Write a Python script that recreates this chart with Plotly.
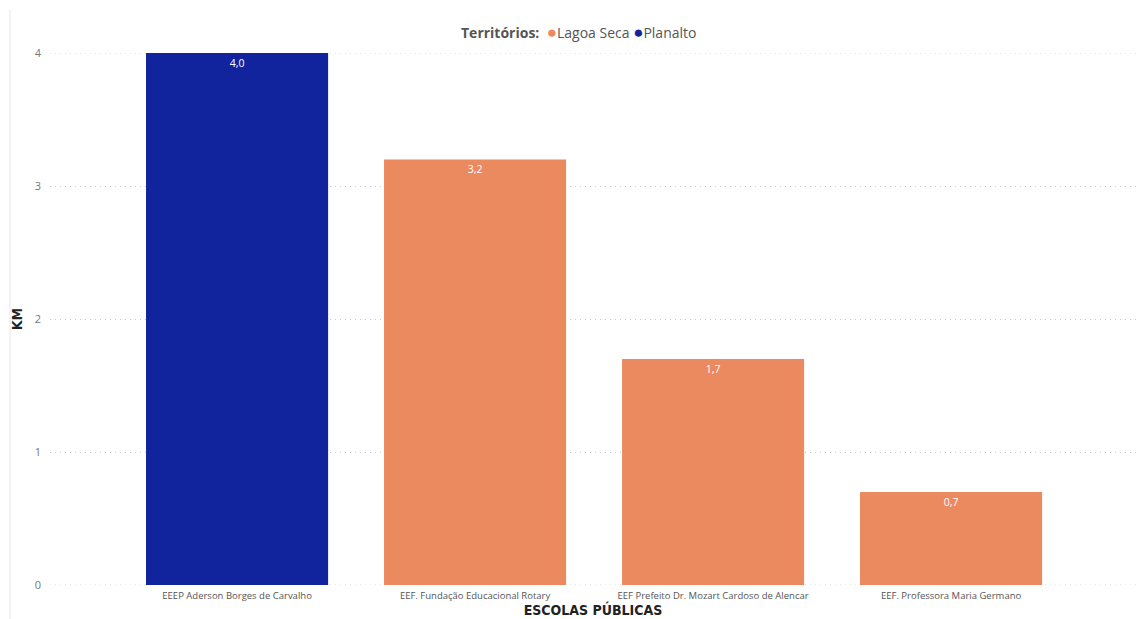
import plotly.graph_objects as go

# Distance (km) from each public school, grouped by territory
escolas = [
    "EEEP Aderson Borges de Carvalho",
    "EEF. Fundação Educacional Rotary",
    "EEF Prefeito Dr. Mozart Cardoso de Alencar",
    "EEF. Professora Maria Germano",
]
km = [4.0, 3.2, 1.7, 0.7]
territorio = ["Planalto", "Lagoa Seca", "Lagoa Seca", "Lagoa Seca"]
y_ticks = [0, 1, 2, 3, 4]

territorios = ["Lagoa Seca", "Planalto"]
cores = {"Lagoa Seca": "#EB895F", "Planalto": "#12239E"}

W, H = 1138, 619
left, right, top, bottom = 50, 2, 53, 34
plot_w = W - left - right
plot_h = H - top - bottom
grid_style = dict(color="#C8C8C8", width=1, dash="1px,4px")

fig = go.Figure()

# Edge gridlines (range bounds) drawn as shapes so they stay visible
for v in (y_ticks[0], y_ticks[-1]):
    fig.add_shape(type="line", xref="paper", yref="y", x0=0, x1=1, y0=v, y1=v,
                  line=grid_style, layer="below")

fig.add_trace(go.Bar(
    x=list(range(len(escolas))),
    y=km,
    marker=dict(color=[cores[t] for t in territorio], line=dict(width=0)),
    width=0.765,
    texttemplate="%{y:.1f}",
    textposition="inside",
    insidetextanchor="end",
    textangle=0,
    textfont=dict(color="#FFFFFF", size=10.5, family="Open Sans"),
    showlegend=False,
    hoverinfo="skip",
))

# Legend line: title followed by a coloured dot for each territory
legenda = "<b>Territórios:</b>  " + " ".join(
    f"<span style='color:{cores[t]};font-size:17px'>●</span>{t}" for t in territorios
)
fig.add_annotation(
    text=legenda, xref="paper", yref="paper",
    x=(578 - left) / plot_w, y=(H - 31 - bottom) / plot_h,
    xanchor="center", yanchor="middle", showarrow=False,
    font=dict(size=14, color="#555555", family="Open Sans"),
)

# Thin frame line on the left edge of the visual
fig.add_shape(type="line", xref="paper", yref="paper",
              x0=(10 - left) / plot_w, x1=(10 - left) / plot_w,
              y0=-bottom / plot_h, y1=(H - 10 - bottom) / plot_h,
              line=dict(color="#E6E6E6", width=1))

fig.update_layout(
    width=W, height=H,
    margin=dict(l=left, r=right, t=top, b=bottom, pad=0),
    paper_bgcolor="white", plot_bgcolor="white",
    separators=",.",
    font=dict(family="Open Sans", color="#666666"),
    showlegend=False,
    xaxis=dict(
        tickmode="array", tickvals=list(range(len(escolas))), ticktext=escolas,
        range=[-0.786, 3.777], showgrid=False, zeroline=False, showline=False,
        tickfont=dict(size=9.5, color="#555555"), ticks="", ticklabelstandoff=3,
        title=dict(text="<b>ESCOLAS PÚBLICAS</b>", standoff=3,
                   font=dict(size=14, color="#222222", family="DejaVu Sans Condensed, Roboto")),
    ),
    yaxis=dict(
        range=[0, 4], tickvals=y_ticks, showgrid=True,
        gridcolor=grid_style["color"], griddash=grid_style["dash"], gridwidth=1,
        zeroline=False, showline=False, ticks="",
        tickfont=dict(size=11, color="#777777"), ticklabelstandoff=8,
        title=dict(text="<b>KM</b>", standoff=8,
                   font=dict(size=14, color="#222222", family="DejaVu Sans Condensed, Roboto")),
    ),
)

fig.write_html("out.html")
